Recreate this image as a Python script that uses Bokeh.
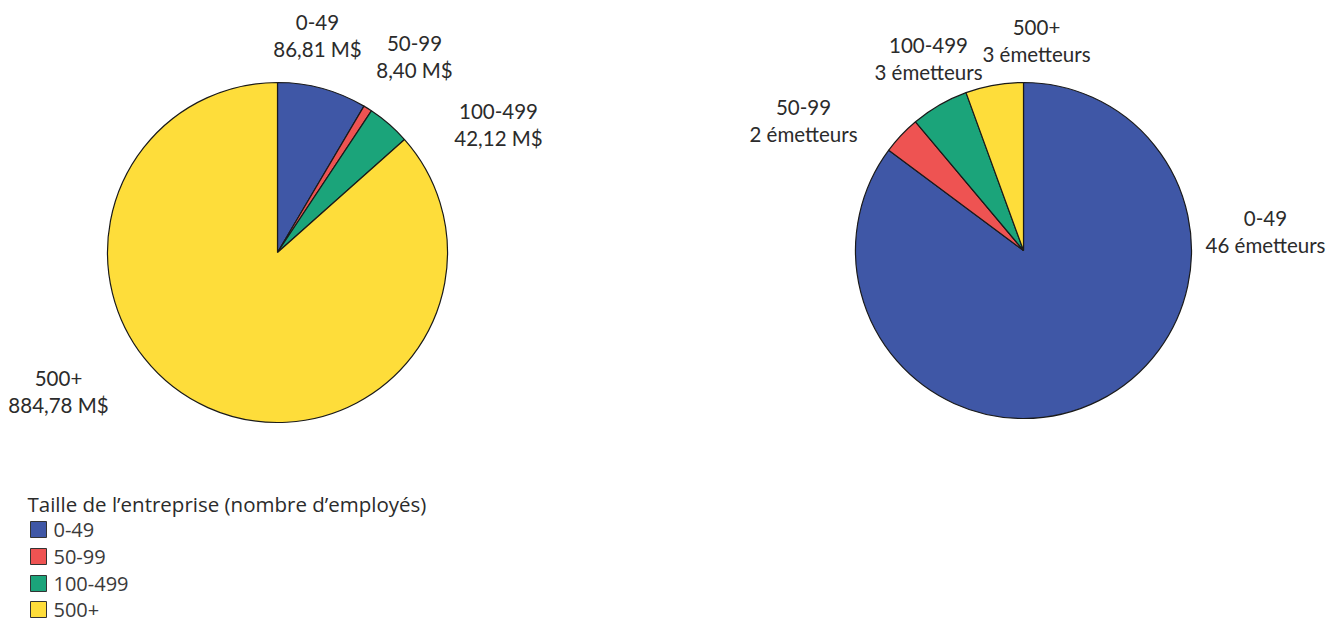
import math
from bokeh.plotting import figure
from bokeh.models import ColumnDataSource, Range1d
from bokeh.core.properties import value
from bokeh.embed import file_html
from bokeh.resources import INLINE

# Company size categories (number of employees)
categories = ["0-49", "50-99", "100-499", "500+"]
colors = ["#3F57A6", "#EE5352", "#1BA47A", "#FEDD3A"]

# Amount by company size (millions of dollars)
amounts = [86.81, 8.40, 42.12, 884.78]
amount_labels = ["86,81 M$", "8,40 M$", "42,12 M$", "884,78 M$"]

# Number of issuers by company size
issuers = [46, 2, 3, 3]
issuer_labels = ["46 émetteurs", "2 émetteurs", "3 émetteurs", "3 émetteurs"]

legend_title = "Taille de l\u2019entreprise (nombre d\u2019employés)"

W, H = 1344, 624
LABEL_FONT = "Lato"
LEGEND_FONT = "Open Sans"
TEXT_COLOR = "#2b2b2b"


def wedge_source(vals):
    total = float(sum(vals))
    starts, ends = [], []
    cum = 0.0
    for v in vals:
        starts.append(math.pi / 2 - 2 * math.pi * cum / total)
        cum += v
        ends.append(math.pi / 2 - 2 * math.pi * cum / total)
    return ColumnDataSource(dict(cat=categories, color=colors, start=starts, end=ends, val=vals))


p = figure(width=W, height=H, output_backend="svg", toolbar_location=None,
           x_range=Range1d(0, W), y_range=Range1d(0, H), min_border=0)
p.axis.visible = False
p.grid.visible = False
p.outline_line_color = None
p.background_fill_color = "white"
p.border_fill_color = "white"

# Left pie: amounts
p.wedge(x=277, y=H - 252, radius=170, start_angle="start", end_angle="end",
        direction="clock", fill_color="color", line_color="#1a1a1a",
        line_width=1.2, source=wedge_source(amounts))

# Right pie: issuer counts
p.wedge(x=1023, y=H - 250, radius=168, start_angle="start", end_angle="end",
        direction="clock", fill_color="color", line_color="#1a1a1a",
        line_width=1.2, source=wedge_source(issuers))

# Slice labels: category on the first line, value on the second
left_pos = [(317, 22), (414, 43), (498, 111), (58, 378)]
right_pos = [(1265, 218), (803, 107), (928, 45), (1036, 27)]
LINE_GAP = 26


def add_labels(pos, vals):
    xs = [xy[0] for xy in pos]
    y1 = [H - xy[1] for xy in pos]
    y2 = [H - xy[1] - LINE_GAP for xy in pos]
    for ys, texts in ((y1, categories), (y2, vals)):
        p.text(x=xs, y=ys, text=texts, text_align="center", text_baseline="middle",
               text_font=value(LABEL_FONT), text_font_size="20.5px", text_color=TEXT_COLOR)


add_labels(left_pos, amount_labels)
add_labels(right_pos, issuer_labels)

# Legend, drawn as swatches and labels
legend_rows = [529, 556, 583, 609]
p.text(x=[27], y=[H - 503], text=[legend_title], text_align="left", text_baseline="middle",
       text_font=value(LEGEND_FONT), text_font_size="20.5px", text_color=TEXT_COLOR)
p.rect(x=[38] * len(categories), y=[H - r for r in legend_rows], width=16, height=16,
       fill_color=colors, line_color="#333333", line_width=1)
p.text(x=[53] * len(categories), y=[H - r for r in legend_rows], text=categories,
       text_align="left", text_baseline="middle",
       text_font=value(LEGEND_FONT), text_font_size="20px", text_color="#3a3a3a")

open("out.html", "w").write(file_html(p, INLINE))
